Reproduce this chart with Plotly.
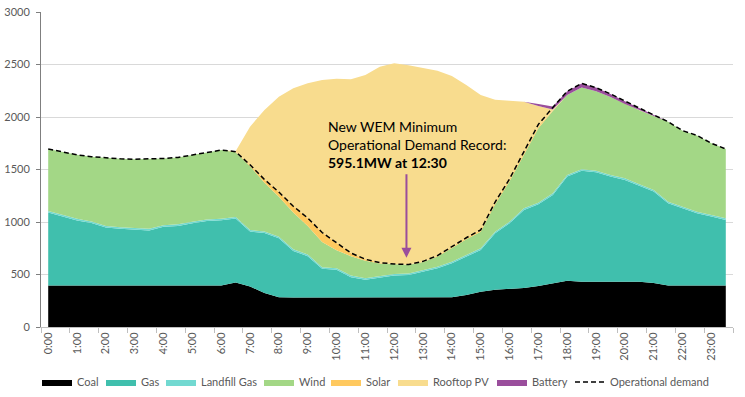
import plotly.graph_objects as go

times = [f"{h}:{m:02d}" for h in range(24) for m in (0, 30)]
tick_labels = [f"{h}:00" for h in range(24)]

coal = [395, 395, 395, 395, 395, 395, 395, 395, 395, 395, 395, 395, 395, 425, 385, 325,
        283, 280, 280, 280, 280, 280, 280, 280, 280, 280, 280, 280, 283, 305, 336, 355,
        365, 372, 390, 415, 440, 430, 430, 430, 430, 430, 418, 395, 395, 395, 395, 395]
gas = [695, 657, 620, 595, 552, 540, 530, 525, 560, 568, 593, 615, 622, 608, 524, 570,
       562, 445, 395, 275, 265, 195, 170, 190, 210, 215, 248, 280, 324, 366, 398, 538,
       623, 743, 779, 843, 993, 1057, 1044, 1003, 971, 915, 872, 784, 736, 688, 657, 625]
landfill = [15] * 48
wind = [590, 598, 610, 617, 648, 652, 658, 663, 635, 637, 637, 635, 653, 617, 606, 465,
        380, 350, 273, 240, 170, 185, 166, 120, 90, 82, 76, 96, 131, 149, 158, 262,
        385, 513, 708, 785, 762, 778, 756, 742, 709, 705, 705, 761, 724, 727, 683, 660]
solar = [0, 0, 0, 0, 0, 0, 0, 0, 0, 0, 0, 0, 0, 5, 15, 30,
         45, 60, 75, 90, 70, 30, 14, 8, 5, 3.1, 6, 9, 12, 15, 18, 20,
         22, 22, 18, 4, 0, 0, 0, 0, 0, 0, 0, 0, 0, 0, 0, 0]
rooftop_pv = [0, 0, 0, 0, 0, 0, 0, 0, 0, 0, 0, 0, 0, 5, 363, 662,
              908, 1123, 1283, 1452, 1565, 1654, 1755, 1866, 1911, 1896.9, 1838, 1761, 1625, 1455, 1285, 975,
              745, 481, 195, 10, 0, 0, 0, 0, 0, 0, 0, 0, 0, 0, 0, 0]
battery = [0, 0, 0, 0, 0, 0, 0, 0, 0, 0, 0, 0, 0, 0, 0, 0,
           0, 0, 0, 0, 0, 0, 0, 0, 0, 0, 0, 0, 0, 0, 0, 0,
           0, 0, 20, 28, 35, 40, 35, 30, 25, 20, 10, 0, 0, 0, 0, 0]
operational_demand = [1695, 1665, 1640, 1622, 1610, 1602, 1598, 1598, 1605, 1615, 1640, 1660, 1685, 1670, 1545, 1405,
                      1285, 1150, 1038, 900, 800, 705, 645, 613, 600, 595.1, 625, 680, 765, 850, 925, 1190,
                      1410, 1665, 1930, 2090, 2245, 2320, 2280, 2220, 2150, 2085, 2020, 1955, 1870, 1825, 1750, 1695]

x = list(range(len(times)))

series = [
    ("Coal", coal, "#000000"),
    ("Gas", gas, "#40BFAD"),
    ("Landfill Gas", landfill, "#72D9D1"),
    ("Wind", wind, "#A3D786"),
    ("Solar", solar, "#FFC95F"),
    ("Rooftop PV", rooftop_pv, "#F8DC8E"),
    ("Battery", battery, "#9A4E9C"),
]

W, H = 745, 397
FONT = "Lato, 'Open Sans', sans-serif"
legend_text_left = [77, 141, 201, 299, 366, 433, 532, 610]

fig = go.Figure()
for k, (name, vals, col) in enumerate(series):
    fig.add_trace(go.Scatter(
        x=x, y=vals, name=name, stackgroup="one", mode="lines",
        line=dict(width=0, color=col), fillcolor=col,
        legend="legend" if k == 0 else f"legend{k + 1}",
        customdata=times, hovertemplate="%{customdata}: %{y}<extra>" + name + "</extra>",
    ))
fig.add_trace(go.Scatter(
    x=x, y=operational_demand, name="Operational demand", mode="lines",
    line=dict(color="#000000", width=1.5, dash="5px,3px"), legend="legend8",
))

fig.add_annotation(
    x=24.85, y=660, ax=24.85, ay=1470, xref="x", yref="y", axref="x", ayref="y",
    text="", showarrow=True, arrowhead=2, arrowsize=1, arrowwidth=2, arrowcolor="#9A4E9C",
    standoff=0,
)
fig.add_annotation(
    x=19.25, y=2010, xref="x", yref="y", xanchor="left", yanchor="top", align="left",
    showarrow=False,
    text="New WEM Minimum<br>Operational Demand Record:<br><b>595.1MW at 12:30</b>",
    font=dict(family=FONT, size=14, color="#000000"),
)

legends = {}
for k, tx in enumerate(legend_text_left):
    key = "legend" if k == 0 else f"legend{k + 1}"
    legends[key] = dict(
        orientation="h", xref="container", yref="container",
        x=(tx - 40) / W, xanchor="left",
        y=1 - 382 / H, yanchor="middle",
        bgcolor="rgba(0,0,0,0)", borderwidth=0,
        font=dict(family=FONT, size=11, color="#595959"), itemwidth=30,
    )

fig.update_layout(
    width=W, height=H,
    margin=dict(l=41, r=12, t=12, b=70, autoexpand=False),
    paper_bgcolor="white", plot_bgcolor="white",
    font=dict(family=FONT, size=11, color="#595959"),
    showlegend=True,
    **legends,
)
fig.update_xaxes(
    range=[-0.5, 47.5], tickmode="array", tickvals=list(range(0, 48, 2)), ticktext=tick_labels,
    tickangle=-90, ticks="", showgrid=False, showline=True, linecolor="#BFBFBF", linewidth=1,
    tickfont=dict(size=11, color="#595959"), zeroline=False, automargin=False,
    minor=dict(tick0=-0.5, dtick=2, ticks="outside", ticklen=5, tickcolor="#BFBFBF", showgrid=False),
)
fig.update_yaxes(
    range=[0, 3000], dtick=500, showgrid=True, gridcolor="#D9D9D9", gridwidth=1,
    showline=True, linecolor="#7F7F7F", linewidth=1, ticks="outside", ticklen=4, tickcolor="#7F7F7F",
    tickfont=dict(size=11, color="#595959"), zeroline=False, automargin=False,
    ticklabelstandoff=4, ticklabeloverflow="allow",
)

fig.write_html("out.html", config=dict(displayModeBar=False),
               post_script="document.body.style.margin='0';")
